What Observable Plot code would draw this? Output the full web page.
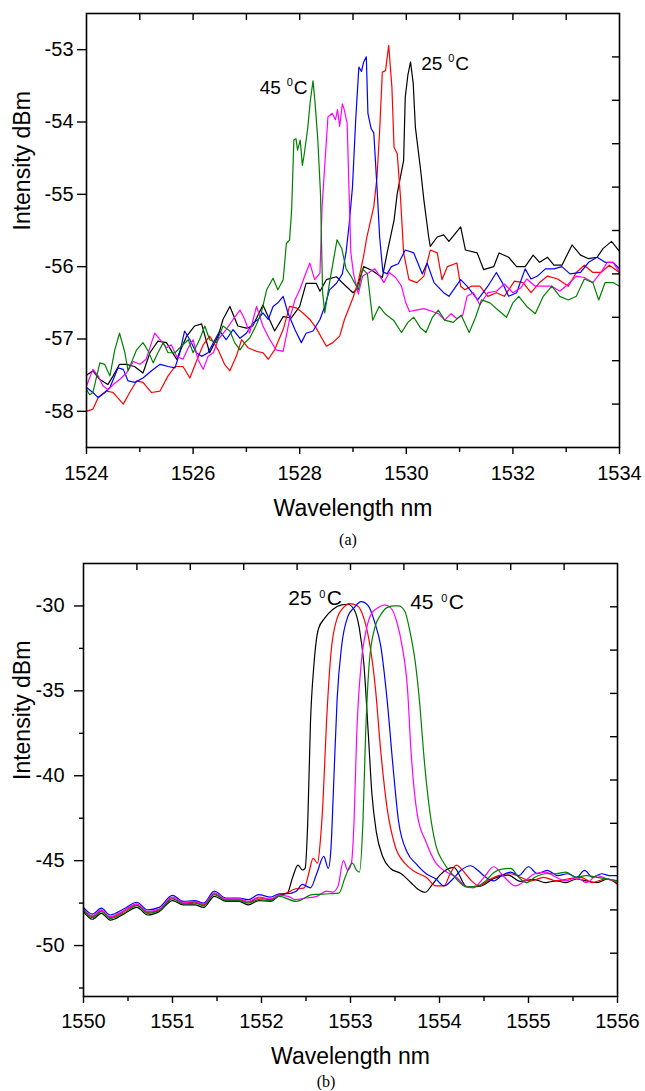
<!DOCTYPE html>
<html><head><meta charset="utf-8">
<script src="https://cdn.jsdelivr.net/npm/d3@7"></script>
<script src="https://cdn.jsdelivr.net/npm/@observablehq/plot@0.6"></script>
<style>
html,body{margin:0;padding:0;background:#fff}
body{width:645px;height:1091px;position:relative;overflow:hidden;font-family:"Liberation Sans",Arial,sans-serif}
#pa{position:absolute;left:0;top:0}
#pb{position:absolute;left:0;top:552px}
.cap{position:absolute;font-family:"Liberation Serif","Times New Roman",serif;font-size:16px;transform:translate(-50%,-50%);color:#000}
</style></head><body>
<div id="pa"></div>
<div class="cap" style="left:348px;top:540px">(a)</div>
<div id="pb"></div>
<div class="cap" style="left:326px;top:1082px">(b)</div>
<script>
// ---------- Panel (a) data: wavelength (nm), intensity (dBm) ----------
const a25 = [[1524.00,-57.50],[1524.12,-57.44],[1524.25,-57.56],[1524.40,-57.63],[1524.50,-57.51],[1524.62,-57.35],[1524.75,-57.35],[1524.90,-57.38],[1525.06,-57.47],[1525.19,-57.19],[1525.34,-57.03],[1525.50,-57.05],[1525.69,-57.28],[1525.88,-56.96],[1526.03,-56.82],[1526.16,-56.79],[1526.31,-57.19],[1526.47,-56.96],[1526.56,-56.73],[1526.69,-56.55],[1526.84,-56.82],[1527.00,-56.85],[1527.12,-56.82],[1527.31,-56.53],[1527.53,-56.89],[1527.69,-56.69],[1527.84,-56.71],[1528.00,-56.55],[1528.12,-56.23],[1528.31,-56.23],[1528.38,-56.34],[1528.50,-56.18],[1528.69,-56.14],[1528.81,-56.23],[1529.00,-56.36],[1529.06,-56.32],[1529.20,-56.00],[1529.35,-56.05],[1529.55,-56.15],[1529.64,-55.81],[1529.77,-55.36],[1529.83,-54.99],[1529.95,-54.53],[1529.98,-53.66],[1530.03,-53.35],[1530.08,-53.17],[1530.13,-53.47],[1530.17,-54.07],[1530.27,-54.67],[1530.33,-55.08],[1530.42,-55.59],[1530.45,-55.72],[1530.58,-55.59],[1530.70,-55.56],[1530.80,-55.65],[1531.02,-55.45],[1531.11,-55.77],[1531.33,-55.81],[1531.45,-56.04],[1531.64,-56.00],[1531.74,-55.81],[1531.92,-55.87],[1532.07,-56.00],[1532.23,-56.00],[1532.38,-55.84],[1532.50,-55.94],[1532.65,-55.87],[1532.77,-55.98],[1532.92,-55.98],[1533.11,-55.70],[1533.27,-55.84],[1533.42,-55.89],[1533.58,-55.87],[1533.69,-55.75],[1533.85,-55.65],[1534.00,-55.79]];
const a30 = [[1524.00,-58.00],[1524.12,-57.97],[1524.22,-57.81],[1524.38,-57.72],[1524.50,-57.74],[1524.69,-57.90],[1524.81,-57.74],[1524.94,-57.58],[1525.06,-57.60],[1525.22,-57.74],[1525.38,-57.72],[1525.53,-57.51],[1525.66,-57.38],[1525.81,-57.38],[1525.94,-57.54],[1526.06,-57.31],[1526.19,-57.08],[1526.31,-56.96],[1526.47,-57.15],[1526.59,-57.35],[1526.69,-57.44],[1526.81,-57.24],[1526.91,-57.01],[1527.03,-57.12],[1527.19,-57.17],[1527.31,-57.19],[1527.41,-57.28],[1527.53,-57.15],[1527.69,-56.87],[1527.81,-56.55],[1527.94,-56.57],[1528.06,-56.64],[1528.19,-56.73],[1528.31,-56.85],[1528.50,-57.10],[1528.62,-57.05],[1528.75,-56.96],[1528.84,-56.73],[1529.00,-56.43],[1529.10,-56.20],[1529.20,-55.85],[1529.26,-55.59],[1529.39,-55.17],[1529.45,-54.76],[1529.50,-54.12],[1529.55,-53.31],[1529.61,-53.29],[1529.67,-52.94],[1529.73,-53.52],[1529.77,-54.35],[1529.83,-54.44],[1529.89,-55.03],[1529.95,-55.81],[1530.05,-56.18],[1530.20,-56.22],[1530.33,-56.13],[1530.45,-55.77],[1530.58,-55.81],[1530.67,-56.18],[1530.77,-56.00],[1530.95,-55.95],[1531.02,-56.27],[1531.10,-56.32],[1531.22,-56.27],[1531.38,-56.27],[1531.53,-56.41],[1531.69,-56.36],[1531.84,-56.41],[1532.03,-56.20],[1532.19,-56.22],[1532.34,-56.36],[1532.50,-56.22],[1532.65,-56.13],[1532.84,-56.17],[1533.04,-56.27],[1533.19,-56.08],[1533.34,-55.98],[1533.50,-56.08],[1533.65,-56.08],[1533.81,-55.98],[1534.00,-56.08]];
const a35 = [[1524.00,-57.67],[1524.12,-57.74],[1524.22,-57.81],[1524.34,-57.74],[1524.44,-57.67],[1524.59,-57.40],[1524.69,-57.42],[1524.78,-57.58],[1524.91,-57.60],[1525.06,-57.54],[1525.22,-57.44],[1525.38,-57.35],[1525.53,-57.38],[1525.66,-57.40],[1525.75,-57.19],[1525.84,-56.89],[1525.94,-57.01],[1526.06,-57.19],[1526.16,-57.24],[1526.28,-57.19],[1526.41,-57.01],[1526.50,-56.89],[1526.62,-57.01],[1526.75,-56.87],[1526.88,-56.99],[1527.00,-56.92],[1527.12,-56.78],[1527.22,-56.73],[1527.31,-56.64],[1527.41,-56.73],[1527.50,-56.55],[1527.59,-56.50],[1527.69,-56.41],[1527.78,-56.64],[1527.91,-56.87],[1528.03,-57.05],[1528.12,-56.92],[1528.25,-56.89],[1528.38,-56.73],[1528.47,-56.55],[1528.56,-56.32],[1528.69,-56.23],[1528.80,-56.10],[1528.87,-55.80],[1528.93,-55.40],[1528.99,-54.90],[1529.05,-53.98],[1529.11,-53.24],[1529.16,-53.30],[1529.20,-53.17],[1529.25,-53.10],[1529.28,-53.88],[1529.34,-54.09],[1529.39,-54.15],[1529.45,-54.90],[1529.50,-55.59],[1529.56,-56.07],[1529.64,-56.10],[1529.72,-56.00],[1529.85,-55.96],[1529.98,-55.77],[1530.14,-55.81],[1530.30,-56.10],[1530.39,-55.95],[1530.52,-56.22],[1530.70,-56.36],[1530.80,-56.41],[1531.02,-56.18],[1531.14,-56.27],[1531.34,-56.46],[1531.53,-56.27],[1531.69,-56.08],[1531.80,-56.22],[1531.92,-56.41],[1532.07,-56.36],[1532.23,-56.03],[1532.34,-56.17],[1532.46,-56.13],[1532.61,-56.03],[1532.77,-56.03],[1532.92,-56.00],[1533.07,-56.10],[1533.27,-56.08],[1533.42,-55.94],[1533.58,-55.87],[1533.73,-55.94],[1533.88,-55.94],[1534.00,-56.03]];
const a40 = [[1524.00,-57.65],[1524.12,-57.42],[1524.22,-57.51],[1524.31,-57.65],[1524.41,-57.70],[1524.50,-57.63],[1524.62,-57.56],[1524.75,-57.47],[1524.88,-57.31],[1525.00,-57.35],[1525.12,-57.28],[1525.22,-57.05],[1525.28,-56.92],[1525.38,-57.01],[1525.50,-57.12],[1525.59,-57.08],[1525.69,-57.24],[1525.81,-57.28],[1525.91,-57.12],[1526.00,-57.01],[1526.09,-57.28],[1526.19,-57.42],[1526.28,-57.24],[1526.38,-57.19],[1526.47,-57.01],[1526.62,-56.87],[1526.75,-56.73],[1526.88,-56.60],[1526.97,-56.73],[1527.06,-56.92],[1527.19,-56.55],[1527.31,-56.82],[1527.44,-57.01],[1527.56,-57.15],[1527.69,-57.17],[1527.81,-56.73],[1527.91,-56.46],[1528.00,-56.32],[1528.09,-56.14],[1528.19,-55.95],[1528.28,-56.18],[1528.38,-56.09],[1528.42,-55.17],[1528.47,-54.60],[1528.53,-53.93],[1528.61,-53.88],[1528.67,-53.97],[1528.71,-53.83],[1528.75,-54.06],[1528.80,-53.75],[1528.84,-53.84],[1528.89,-54.02],[1528.92,-54.80],[1528.96,-55.81],[1529.01,-56.10],[1529.10,-56.38],[1529.18,-56.13],[1529.30,-56.08],[1529.41,-56.03],[1529.50,-56.13],[1529.58,-56.22],[1529.68,-56.08],[1529.80,-56.15],[1529.91,-56.27],[1529.99,-56.50],[1530.06,-56.62],[1530.18,-56.60],[1530.33,-56.58],[1530.49,-56.62],[1530.60,-56.65],[1530.72,-56.74],[1530.84,-56.65],[1530.95,-56.72],[1531.06,-56.67],[1531.14,-56.41],[1531.26,-56.36],[1531.38,-56.53],[1531.53,-56.36],[1531.69,-56.34],[1531.84,-56.24],[1532.00,-56.36],[1532.15,-56.29],[1532.26,-56.17],[1532.42,-56.27],[1532.57,-56.27],[1532.73,-56.27],[1532.88,-56.34],[1533.04,-56.24],[1533.19,-56.13],[1533.34,-56.15],[1533.50,-56.22],[1533.65,-56.08],[1533.77,-55.94],[1533.88,-55.94],[1534.00,-56.08]];
const a45 = [[1524.00,-57.70],[1524.06,-57.77],[1524.12,-57.74],[1524.25,-57.33],[1524.34,-57.35],[1524.44,-57.51],[1524.53,-57.15],[1524.62,-56.92],[1524.72,-57.19],[1524.78,-57.44],[1524.84,-57.33],[1524.94,-57.15],[1525.06,-57.05],[1525.16,-57.17],[1525.25,-57.33],[1525.34,-57.19],[1525.44,-57.05],[1525.53,-57.19],[1525.66,-57.19],[1525.78,-57.10],[1525.91,-57.01],[1526.00,-57.19],[1526.12,-57.01],[1526.22,-56.82],[1526.31,-57.01],[1526.44,-57.05],[1526.56,-56.82],[1526.69,-56.89],[1526.78,-57.05],[1526.88,-57.15],[1526.97,-57.05],[1527.06,-56.99],[1527.19,-56.80],[1527.28,-56.64],[1527.38,-56.32],[1527.50,-56.16],[1527.59,-56.32],[1527.69,-56.18],[1527.75,-55.68],[1527.81,-55.63],[1527.85,-55.20],[1527.89,-54.25],[1527.93,-54.23],[1527.96,-54.39],[1528.01,-54.25],[1528.05,-54.60],[1528.08,-54.47],[1528.15,-54.09],[1528.20,-53.70],[1528.25,-53.43],[1528.29,-53.75],[1528.34,-54.25],[1528.39,-54.99],[1528.43,-56.36],[1528.47,-56.64],[1528.56,-56.22],[1528.65,-55.84],[1528.70,-55.63],[1528.79,-55.75],[1528.87,-56.03],[1528.96,-56.13],[1529.10,-56.32],[1529.18,-56.03],[1529.27,-56.10],[1529.37,-56.74],[1529.49,-56.55],[1529.60,-56.65],[1529.76,-56.74],[1529.91,-56.91],[1530.03,-56.77],[1530.14,-56.70],[1530.26,-56.84],[1530.37,-56.91],[1530.49,-56.70],[1530.60,-56.60],[1530.72,-56.74],[1530.88,-56.77],[1531.03,-56.67],[1531.18,-56.91],[1531.30,-56.70],[1531.41,-56.46],[1531.57,-56.50],[1531.72,-56.60],[1531.88,-56.70],[1532.00,-56.50],[1532.11,-56.41],[1532.26,-56.55],[1532.42,-56.65],[1532.57,-56.41],[1532.73,-56.27],[1532.88,-56.41],[1533.04,-56.46],[1533.19,-56.41],[1533.34,-56.17],[1533.50,-56.22],[1533.61,-56.46],[1533.73,-56.22],[1533.88,-56.22],[1534.00,-56.27]];

// ---------- Panel (b) data ----------
const b25 = [[1550.00,-48.00],[1550.10,-48.45],[1550.20,-48.10],[1550.30,-48.50],[1550.45,-48.15],[1550.60,-47.75],[1550.72,-48.20],[1550.85,-48.00],[1551.00,-47.35],[1551.12,-47.60],[1551.25,-47.60],[1551.35,-47.75],[1551.47,-47.10],[1551.60,-47.40],[1551.75,-47.40],[1551.85,-47.60],[1551.97,-47.35],[1552.10,-47.40],[1552.20,-47.05],[1552.29,-46.91],[1552.35,-45.98],[1552.41,-45.26],[1552.46,-45.55],[1552.49,-45.45],[1552.52,-42.68],[1552.55,-36.90],[1552.59,-33.40],[1552.64,-31.34],[1552.71,-30.72],[1552.80,-30.21],[1552.90,-29.94],[1552.97,-29.90],[1553.04,-30.21],[1553.10,-31.34],[1553.15,-33.40],[1553.20,-37.53],[1553.24,-41.03],[1553.29,-43.30],[1553.36,-44.74],[1553.45,-45.46],[1553.57,-45.77],[1553.68,-46.30],[1553.75,-46.65],[1553.84,-46.86],[1553.92,-46.40],[1554.01,-45.82],[1554.16,-45.40],[1554.31,-46.55],[1554.46,-46.50],[1554.61,-46.05],[1554.77,-45.85],[1554.91,-46.22],[1555.06,-46.10],[1555.19,-46.29],[1555.31,-46.19],[1555.42,-46.29],[1555.54,-46.08],[1555.65,-46.19],[1555.77,-46.29],[1555.89,-46.08],[1556.00,-46.39]];
const b30 = [[1550.00,-47.85],[1550.10,-48.30],[1550.20,-47.95],[1550.30,-48.35],[1550.45,-48.00],[1550.60,-47.60],[1550.72,-48.05],[1550.85,-47.90],[1551.00,-47.20],[1551.12,-47.50],[1551.25,-47.45],[1551.35,-47.60],[1551.47,-46.95],[1551.60,-47.30],[1551.75,-47.30],[1551.85,-47.45],[1551.97,-47.20],[1552.10,-47.30],[1552.20,-47.00],[1552.29,-46.90],[1552.36,-46.70],[1552.48,-46.60],[1552.53,-45.77],[1552.58,-44.86],[1552.63,-45.15],[1552.66,-43.90],[1552.69,-41.60],[1552.73,-36.90],[1552.78,-32.80],[1552.85,-30.72],[1552.92,-30.10],[1552.99,-29.86],[1553.08,-30.00],[1553.15,-30.72],[1553.22,-32.37],[1553.28,-34.85],[1553.34,-38.56],[1553.41,-41.86],[1553.50,-44.12],[1553.61,-45.15],[1553.73,-45.67],[1553.85,-45.98],[1553.96,-46.49],[1554.05,-46.49],[1554.12,-45.77],[1554.19,-45.26],[1554.26,-45.57],[1554.36,-46.19],[1554.45,-46.49],[1554.54,-46.19],[1554.66,-45.88],[1554.80,-45.77],[1554.91,-45.98],[1555.03,-46.19],[1555.17,-45.98],[1555.31,-46.19],[1555.44,-46.08],[1555.59,-45.98],[1555.72,-46.29],[1555.86,-46.08],[1556.00,-46.29]];
const b35 = [[1550.00,-47.75],[1550.10,-48.15],[1550.20,-47.80],[1550.30,-48.20],[1550.45,-47.85],[1550.60,-47.45],[1550.72,-47.90],[1550.85,-47.75],[1551.00,-47.05],[1551.12,-47.40],[1551.25,-47.35],[1551.35,-47.50],[1551.47,-46.80],[1551.60,-47.20],[1551.75,-47.20],[1551.85,-47.30],[1551.97,-47.00],[1552.10,-47.15],[1552.20,-46.95],[1552.29,-46.95],[1552.39,-46.80],[1552.46,-46.40],[1552.55,-46.60],[1552.62,-45.77],[1552.70,-44.75],[1552.75,-45.46],[1552.78,-44.33],[1552.81,-40.60],[1552.85,-35.46],[1552.90,-32.37],[1552.97,-30.62],[1553.04,-30.10],[1553.12,-29.75],[1553.20,-30.00],[1553.27,-30.93],[1553.34,-32.37],[1553.41,-35.46],[1553.48,-39.59],[1553.54,-42.68],[1553.64,-44.54],[1553.73,-45.15],[1553.85,-45.77],[1553.96,-46.08],[1554.05,-46.49],[1554.15,-46.08],[1554.24,-45.57],[1554.35,-45.30],[1554.43,-45.57],[1554.52,-45.98],[1554.61,-46.19],[1554.70,-45.88],[1554.80,-45.67],[1554.89,-45.88],[1555.00,-45.36],[1555.10,-45.77],[1555.21,-45.57],[1555.33,-45.88],[1555.44,-45.77],[1555.54,-45.98],[1555.63,-45.57],[1555.72,-45.98],[1555.82,-45.77],[1555.91,-45.88],[1556.00,-45.88]];
const b40 = [[1550.00,-47.85],[1550.10,-48.25],[1550.20,-47.90],[1550.30,-48.30],[1550.45,-47.95],[1550.60,-47.55],[1550.72,-48.00],[1550.85,-47.85],[1551.00,-47.15],[1551.12,-47.45],[1551.25,-47.40],[1551.35,-47.55],[1551.47,-46.90],[1551.60,-47.25],[1551.75,-47.25],[1551.85,-47.40],[1551.97,-47.15],[1552.10,-47.25],[1552.20,-47.05],[1552.30,-47.10],[1552.38,-47.30],[1552.50,-47.20],[1552.62,-47.10],[1552.73,-46.80],[1552.80,-46.85],[1552.86,-46.50],[1552.92,-45.00],[1552.97,-45.57],[1553.01,-45.15],[1553.04,-42.68],[1553.07,-37.53],[1553.12,-33.40],[1553.18,-31.34],[1553.24,-30.41],[1553.31,-30.10],[1553.38,-29.94],[1553.45,-30.10],[1553.52,-30.93],[1553.58,-32.37],[1553.64,-34.85],[1553.68,-38.56],[1553.75,-42.27],[1553.85,-43.92],[1553.96,-45.15],[1554.08,-45.67],[1554.19,-45.98],[1554.29,-46.49],[1554.38,-46.60],[1554.50,-45.98],[1554.61,-45.36],[1554.73,-45.98],[1554.85,-46.49],[1554.96,-46.19],[1555.07,-45.77],[1555.19,-45.67],[1555.31,-45.98],[1555.42,-46.19],[1555.54,-45.98],[1555.65,-46.29],[1555.77,-45.88],[1555.89,-46.08],[1556.00,-46.19]];
const b45 = [[1550.00,-47.90],[1550.10,-48.35],[1550.20,-48.00],[1550.30,-48.40],[1550.45,-48.10],[1550.60,-47.65],[1550.72,-48.10],[1550.85,-47.95],[1551.00,-47.25],[1551.12,-47.55],[1551.25,-47.50],[1551.35,-47.65],[1551.47,-47.00],[1551.60,-47.35],[1551.75,-47.35],[1551.85,-47.50],[1551.97,-47.30],[1552.10,-47.35],[1552.20,-47.10],[1552.39,-47.40],[1552.57,-47.00],[1552.76,-46.95],[1552.87,-46.91],[1552.94,-45.98],[1553.02,-45.15],[1553.07,-45.57],[1553.10,-45.67],[1553.14,-42.68],[1553.17,-37.53],[1553.21,-33.40],[1553.27,-31.34],[1553.34,-30.52],[1553.41,-30.10],[1553.48,-30.00],[1553.54,-30.00],[1553.61,-30.31],[1553.67,-31.55],[1553.73,-33.40],[1553.78,-35.88],[1553.82,-38.56],[1553.89,-42.06],[1553.96,-44.12],[1554.05,-45.15],[1554.16,-45.90],[1554.31,-46.55],[1554.43,-46.49],[1554.52,-46.19],[1554.61,-45.70],[1554.70,-45.50],[1554.80,-45.46],[1554.89,-45.98],[1554.98,-46.29],[1555.07,-45.98],[1555.19,-45.77],[1555.31,-45.77],[1555.42,-45.67],[1555.54,-45.98],[1555.65,-45.88],[1555.77,-45.98],[1555.89,-46.08],[1556.00,-46.19]];

const seriesColors = ["#000000", "#ff0000", "#0000ff", "#ff00ff", "#008000"];

// ---------- Tick values ----------
const aXMajor = [1524, 1526, 1528, 1530, 1532, 1534];
const aXMinor = [1525, 1527, 1529, 1531, 1533];
const aYMajor = [-53, -54, -55, -56, -57, -58];
const aTop = [1525, 1526, 1527, 1528, 1529, 1530, 1531, 1532, 1533];
const aRight = [-53.1, -53.7, -54.3, -54.9, -55.5, -56.1, -56.7, -57.3, -57.9];

const bXMajor = [1550, 1551, 1552, 1553, 1554, 1555, 1556];
const bXMinor = [1550.5, 1551.5, 1552.5, 1553.5, 1554.5, 1555.5];
const bYMajor = [-30, -35, -40, -45, -50];
const bYMinor = [-32.5, -37.5, -42.5, -47.5, -52.5];
const bTop = [1550.6, 1551.2, 1551.8, 1552.4, 1553.0, 1553.6, 1554.2, 1554.8, 1555.4];
const bRight = [-30.05, -32.6, -35.15, -37.7, -40.25, -42.8, -45.35, -47.9, -50.45];

// ---------- Annotations ----------
const aLabels = [{x: 1527.25, y: -53.53, num: "45", sup: "0", unit: "C"}, {x: 1530.28, y: -53.20, num: "25", sup: "0", unit: "C"}];
const bLabels = [{x: 1552.30, y: -29.53, num: "25", sup: "0", unit: "C"}, {x: 1553.67, y: -29.81, num: "45", sup: "0", unit: "C"}];

const FONT = '"Liberation Sans", Arial, Helvetica, sans-serif';

function panel(o) {
  const innerW = 645 - o.ml - o.mr;
  const innerH = o.height - o.mt - o.mb;
  const tickFmt = d => String(d);
  const marks = [];
  o.series.forEach((s, i) => marks.push(Plot.line(s, {x: d => d[0], y: d => d[1], stroke: seriesColors[i], strokeWidth: 1.2, curve: o.curve})));
  marks.push(Plot.frame({stroke: "black", strokeWidth: 1.6}));
  marks.push(Plot.axisX({ticks: o.xMajor, tickSize: 7, tickPadding: o.xPad, tickFormat: tickFmt, fontSize: 20, label: null, strokeWidth: 1.4}));
  marks.push(Plot.axisX({ticks: o.xMinor, tickSize: 5, tickFormat: () => "", label: null, strokeWidth: 1.4}));
  marks.push(Plot.axisY({ticks: o.yMajor, tickSize: 9, tickPadding: o.yPad, tickFormat: tickFmt, fontSize: 20, label: null, strokeWidth: 1.4}));
  if (o.yMinor) marks.push(Plot.axisY({ticks: o.yMinor, tickSize: 4, tickFormat: () => "", label: null, strokeWidth: 1.4}));
  marks.push(Plot.ruleX(o.top, {x: d => d, insetBottom: innerH - 7, stroke: "black", strokeWidth: 1.4}));
  marks.push(Plot.ruleY(o.right, {y: d => d, insetLeft: innerW - 7, stroke: "black", strokeWidth: 1.4}));
  marks.push(Plot.text(["Wavelength nm"], {text: d => d, frameAnchor: "bottom", dy: o.xTitleDy, fontSize: 23, lineAnchor: "middle", fill: "black"}));
  marks.push(Plot.text(["Intensity dBm"], {text: d => d, frameAnchor: "left", dx: o.yTitleDx, rotate: -90, fontSize: 23, lineAnchor: "middle", fill: "black"}));
  marks.push(Plot.text(o.labels, {x: "x", y: "y", text: "num", textAnchor: "start", lineAnchor: "middle", fontSize: o.lf, fill: "black"}));
  marks.push(Plot.text(o.labels, {x: "x", y: "y", text: "sup", textAnchor: "start", lineAnchor: "middle", fontSize: 11, dx: o.supDx, dy: o.supDy, fill: "black"}));
  marks.push(Plot.text(o.labels, {x: "x", y: "y", text: "unit", textAnchor: "start", lineAnchor: "middle", fontSize: o.lf, dx: o.cDx, fill: "black"}));
  return Plot.plot({
    width: 645, height: o.height,
    marginTop: o.mt, marginBottom: o.mb, marginLeft: o.ml, marginRight: o.mr,
    x: {domain: o.xDomain},
    y: {domain: o.yDomain},
    style: {fontFamily: FONT, fontSize: "20px", background: "white", color: "black", overflow: "visible"},
    marks
  });
}

document.getElementById("pa").append(panel({
  series: [a25, a30, a35, a40, a45], curve: "linear",
  height: 528, mt: 13, mb: 81, ml: 86, mr: 26,
  xDomain: [1524, 1534], yDomain: [-58.5, -52.5],
  xMajor: aXMajor, xMinor: aXMinor, yMajor: aYMajor, yMinor: null,
  top: aTop, right: aRight, xPad: 11, yPad: 4,
  xTitleDy: 61, yTitleDx: -64,
  labels: aLabels, lf: 19, supDx: 27, supDy: -6, cDx: 34
}));

document.getElementById("pb").append(panel({
  series: [b25, b30, b35, b40, b45], curve: "monotone-x",
  height: 520, mt: 11, mb: 76, ml: 83, mr: 28,
  xDomain: [1550, 1556], yDomain: [-53, -27.5],
  xMajor: bXMajor, xMinor: bXMinor, yMajor: bYMajor, yMinor: bYMinor,
  top: bTop, right: bRight, xPad: 10, yPad: 10,
  xTitleDy: 60, yTitleDx: -61,
  labels: bLabels, lf: 21, supDx: 31, supDy: -4, cDx: 38.5
}));
</script>
</body></html>
